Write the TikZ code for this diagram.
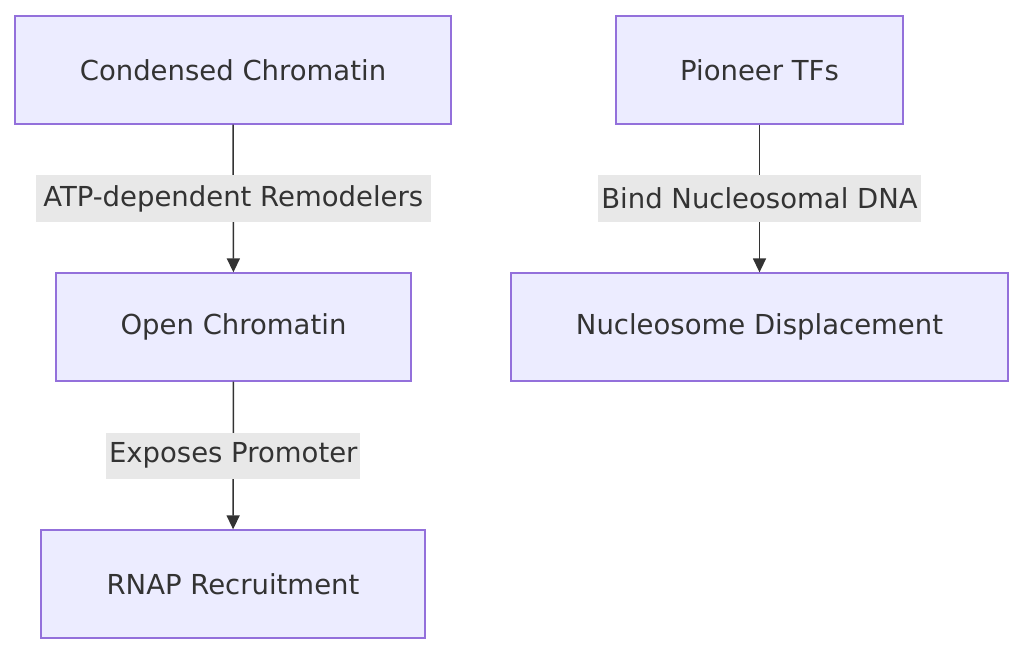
\documentclass[tikz,border=0pt]{standalone}
\usepackage{fontspec}
\setmainfont{DejaVu Sans}
\usetikzlibrary{arrows.meta}
\definecolor{nfill}{HTML}{ECECFF}
\definecolor{nline}{HTML}{9370DB}
\definecolor{lbg}{HTML}{E8E8E8}
\definecolor{ed}{HTML}{333333}
\begin{document}
\begin{tikzpicture}[x=1pt,y=-1pt,
  box/.style={draw=nline,fill=nfill,line width=1.3pt,minimum height=108pt,font=\fontsize{27.5}{32}\selectfont,text=ed},
  lab/.style={fill=lbg,font=\fontsize{27.5}{32}\selectfont,text=ed,minimum height=46pt,inner xsep=1pt},
  arr/.style={draw=ed,line width=1.5pt,-{Triangle[length=14pt,width=13pt]}}]
\useasboundingbox (0,0) rectangle (1024,655);
\node[box,minimum width=436pt] (cc) at (233,70) {Condensed Chromatin};
\node[box,minimum width=287pt] (pt) at (759.5,70) {Pioneer TFs};
\node[box,minimum width=355pt] (oc) at (233.5,327) {Open Chromatin};
\node[box,minimum width=497pt] (nd) at (759.5,327) {Nucleosome Displacement};
\node[box,minimum width=384pt] (rn) at (233,584) {RNAP Recruitment};
\draw[arr] (cc) -- (oc) node[midway,lab,minimum width=395pt] {ATP-dependent Remodelers};
\draw[arr] (pt) -- (nd) node[midway,lab,minimum width=323pt] {Bind Nucleosomal DNA};
\draw[arr] (oc) -- (rn) node[midway,lab,minimum width=254pt] {Exposes Promoter};
\end{tikzpicture}
\end{document}
